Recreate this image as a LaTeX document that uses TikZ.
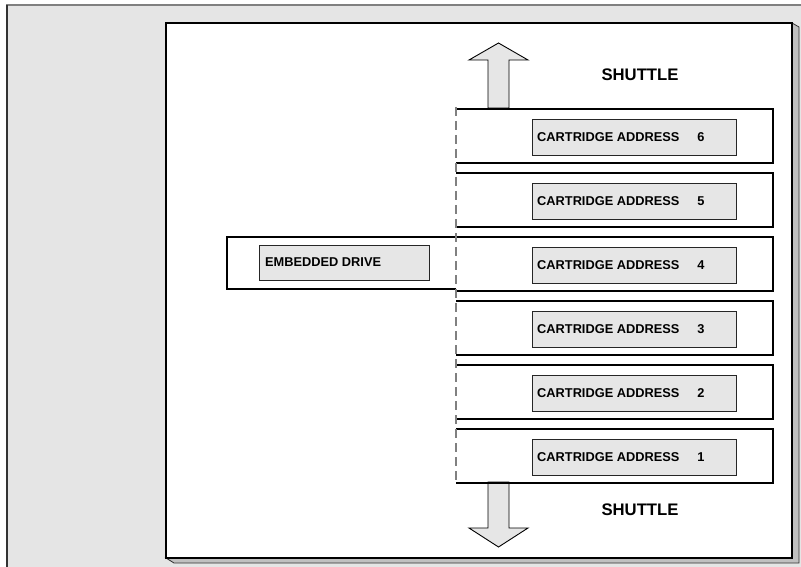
\documentclass[tikz,border=0pt]{standalone}
\usepackage{fontspec}
\setmainfont{Liberation Sans}
\definecolor{backdrop}{HTML}{E5E5E5}
\definecolor{labelfill}{HTML}{E6E6E6}
\definecolor{shadow}{HTML}{C0C0C0}
\definecolor{rail}{HTML}{808080}
\tikzset{
  slot/.style={rectangle, minimum width=317pt, minimum height=54pt, inner sep=0pt, outer sep=0pt},
  slotedge/.style={draw=black, line width=1.8pt},
  labelbox/.style={rectangle, draw=black!85, line width=0.9pt, fill=labelfill, minimum width=204pt, minimum height=36pt, inner sep=0pt, outer sep=0pt},
  labeltext/.style={font=\bfseries\fontsize{12.8}{14}\selectfont, inner sep=0pt, anchor=west},
  shuttletext/.style={font=\bfseries\fontsize{16.7}{19}\selectfont, inner sep=0pt},
  movearrow/.style={fill=labelfill, draw=black, line width=0.9pt},
  railline/.style={draw=rail, line width=1.9pt, dash pattern=on 9pt off 5pt}
}
\begin{document}
\begin{tikzpicture}[x=1pt, y=-1pt, line join=miter]
\useasboundingbox (0,0) rectangle (801,567);
% backdrop panel
\fill[backdrop] (7,5) rectangle (801,567);
\draw[rail, line width=2pt] (6,5) -- (801,5);
\draw[black!80, line width=2pt] (7,5) -- (7,567);
% raised white sheet with its bevelled shadow
\filldraw[fill=shadow, draw=black!80, line width=0.8pt]
  (792,23) -- (799,27) -- (799,563) -- (174,563) -- (166,558) -- (792,558) -- cycle;
\filldraw[fill=white, draw=black, line width=1.5pt] (166,23) rectangle (792,558);

% shuttle movement arrows
\filldraw[movearrow] (488,108) -- (488,60) -- (469,60) -- (498.5,43) -- (528,60) -- (509,60) -- (509,108) -- cycle;
\filldraw[movearrow] (488,482) -- (488,528) -- (469,528) -- (498.5,547) -- (528,528) -- (509,528) -- (509,482) -- cycle;
\node[shuttletext] (shuttletop) at (640,75) {SHUTTLE};
\node[shuttletext] (shuttlebot) at (640,510) {SHUTTLE};

% cartridge slots in the shuttle
\foreach \n in {1,...,6} {
  \pgfmathsetmacro\yc{136+(6-\n)*64}
  \node[slot] (slot\n) at (614.5,\yc) {};
  \node[labelbox] (addr\n) at (634,\yc+1) {};
  \node[labeltext] at ([xshift=5pt]addr\n.west) {CARTRIDGE ADDRESS\hspace{18pt}\n};
  \draw[slotedge] (slot\n.north west) -- (slot\n.north east) -- (slot\n.south east) -- (slot\n.south west);
}

% embedded drive beside slot 4
\node[rectangle, minimum width=229pt, minimum height=52pt, inner sep=0pt, outer sep=0pt] (drive) at (341.5,263) {};
\draw[slotedge] (drive.north east) -- (drive.north west) -- (drive.south west) -- (drive.south east);
\node[labelbox, minimum width=170pt, minimum height=35pt] (drivelabel) at (344,262.5) {};
\node[labeltext] at ([xshift=6pt]drivelabel.west) {EMBEDDED DRIVE};

% shuttle rail (open side of the slots)
\coordinate (railtop) at (456,107);
\coordinate (railbot) at (456,483);
\draw[railline] (railtop) -- (railbot);
\end{tikzpicture}
\end{document}
